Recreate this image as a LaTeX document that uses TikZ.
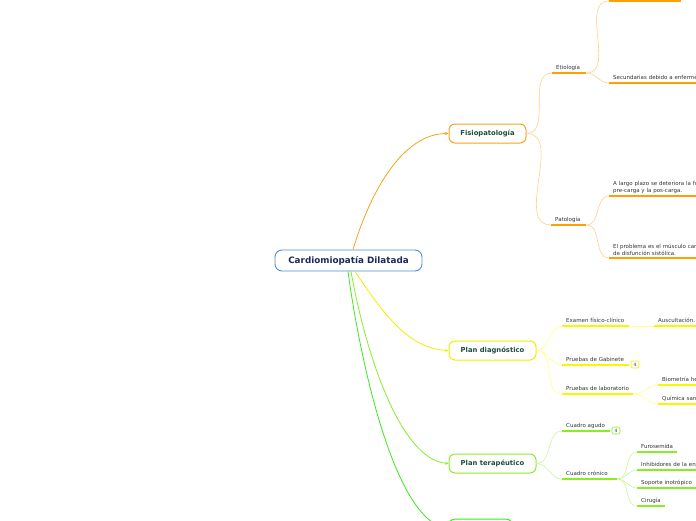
\documentclass[tikz,border=0pt]{standalone}
\usepackage{fontspec}
\setmainfont{DejaVu Sans}
\usetikzlibrary{arrows.meta}
\definecolor{orM}{HTML}{F5A31E}
\definecolor{orT}{HTML}{FFA000}
\definecolor{orL}{HTML}{FFD08A}
\definecolor{yeM}{HTML}{EEEE00}
\definecolor{yeT}{HTML}{F7F700}
\definecolor{yeL}{HTML}{FFFF88}
\definecolor{lgM}{HTML}{8CEB2A}
\definecolor{lgT}{HTML}{88EE22}
\definecolor{lgL}{HTML}{C8F79A}
\definecolor{grM}{HTML}{3CE81E}
\definecolor{rootB}{HTML}{4A90D9}
\definecolor{rootT}{HTML}{1B2A5C}
\definecolor{mainT}{HTML}{1E4D3C}
\definecolor{txt}{HTML}{333333}
\begin{document}
\begin{tikzpicture}[x=1pt,y=-1pt,
 root/.style={draw=rootB, line width=0.9pt, rounded corners=7pt, fill=white, minimum width=147pt, minimum height=21pt, inner sep=0pt, font=\fontsize{8.8}{10}\selectfont\bfseries, text=rootT},
 mainnode/.style={draw=#1, line width=1pt, rounded corners=6pt, fill=white, minimum height=19pt, inner sep=0pt, font=\fontsize{6.8}{8}\selectfont\bfseries, text=mainT},
 conn/.style={draw=#1, line width=0.8pt, -{Stealth[length=3.5pt,width=3pt]}},
 leaf/.style={anchor=south west, inner xsep=4pt, inner ysep=2pt, text depth=1.3pt, align=left, font=\fontsize{5.5}{7}\selectfont, text=txt},
 multi/.style={text depth={}, inner ysep=2.2pt},
 ul/.style={draw=#1, line width=1.6pt},
 thinline/.style={draw=#1, line width=0.6pt},
 badge/.style={draw=#1, line width=0.6pt, rounded corners=2pt, minimum width=8pt, minimum height=7pt, inner sep=0pt, font=\fontsize{4.5}{4.5}\selectfont, text=txt, fill=white},
]
\useasboundingbox (0,0) rectangle (696,520);
\clip (0,0) rectangle (696,520);

% main nodes
\node[root] (root) at (348.5,260.5) {Cardiomiopatía Dilatada};
\node[mainnode=orM, minimum width=77pt] (fis) at (487.5,133.5) {Fisiopatología};
\node[mainnode=yeM, minimum width=87pt] (diag) at (492.5,350.5) {Plan diagnóstico};
\node[mainnode=lgM, minimum width=87pt] (tera) at (492.5,463.5) {Plan terapéutico};
\node[mainnode=grM, minimum width=63pt] (bot) at (480.5,528.5) {};

% main connectors
\draw[conn=orM] ([xshift=4.5pt]root.north) .. controls +(18,-60) and +(-45,0) .. (fis.west);
\draw[conn=yeM] ([xshift=6.5pt]root.south) .. controls +(30,45) and +(-39,-2) .. (diag.west);
\draw[conn=lgM] ([xshift=2.5pt]root.south) .. controls +(14,79) and +(-49,-4) .. (tera.west);
\draw[conn=grM] ([xshift=-0.5pt]root.south) .. controls +(12,89) and +(-54,-8) .. (bot.west);

% Fisiopatologia branch
\node[leaf, text width=26pt] (etio) at (552,73) {\mbox{Etiología}};
\node[leaf, text width=64pt] (etioA) at (609,1) {};
\node[leaf, text width=110pt] (sec) at (609,83) {\mbox{Secundarias debido a enfermedades}};
\node[leaf, text width=27pt] (pato) at (551,225) {\mbox{Patología}};
\node[leaf, multi, text width=110pt] (largo) at (609,196) {A largo plazo se deteriora la función\\pre-carga y la pos-carga.};
\node[leaf, multi, text width=110pt] (probl) at (609,258) {El problema es el músculo cardíaco\\de disfunción sistólica.};
\foreach \n in {etio,etioA,sec,pato,largo,probl}
  \draw[ul=orT] (\n.south west) -- (\n.south east);
\draw[thinline=orL] (fis.east) to[out=0,in=180] (etio.south west);
\draw[thinline=orL] (fis.east) to[out=0,in=180] (pato.south west);
\draw[thinline=orL] (etio.south east) to[out=0,in=180] (etioA.south west);
\draw[thinline=orL] (etio.south east) to[out=0,in=180] (sec.south west);
\draw[thinline=orL] (pato.south east) to[out=0,in=180] (largo.south west);
\draw[thinline=orL] (pato.south east) to[out=0,in=180] (probl.south west);

% Plan diagnostico branch
\node[leaf, text width=59pt] (exam) at (562,326) {\mbox{Examen físico-clínico}};
\node[leaf, text width=60pt] (ausc) at (654,326) {\mbox{Auscultación.}};
\node[leaf, text width=59pt] (gab) at (562,365) {\mbox{Pruebas de Gabinete}};
\node[badge=yeM] (gabb) at (635,364.5) {4};
\node[leaf, text width=63pt] (lab) at (562,394) {\mbox{Pruebas de laboratorio}};
\node[leaf, text width=60pt] (bio) at (658,385) {\mbox{Biometría hemática}};
\node[leaf, text width=60pt] (quim) at (658,404) {\mbox{Química sanguínea}};
\foreach \n in {exam,ausc,gab,lab,bio,quim}
  \draw[ul=yeT] (\n.south west) -- (\n.south east);
\draw[thinline=yeL] (diag.east) to[out=0,in=180] (exam.south west);
\draw[thinline=yeL] (diag.east) to[out=0,in=180] (gab.south west);
\draw[thinline=yeL] (diag.east) to[out=0,in=180] (lab.south west);
\draw[thinline=yeL] (exam.south east) -- (ausc.south west);
\draw[thinline=yeL] (lab.south east) to[out=0,in=180] (bio.south west);
\draw[thinline=yeL] (lab.south east) to[out=0,in=180] (quim.south west);

% Plan terapeutico branch
\node[leaf, text width=40pt] (agudo) at (562,431) {\mbox{Cuadro agudo}};
\node[badge=lgM] (agudob) at (616,430.5) {4};
\node[leaf, text width=47pt] (cron) at (562,479) {\mbox{Cuadro crónico}};
\node[leaf, text width=32pt] (furo) at (637,452) {\mbox{Furosemida}};
\node[leaf, text width=90pt] (inhib) at (637,470) {\mbox{Inhibidores de la enzima}};
\node[leaf, text width=56pt] (sop) at (637,488) {\mbox{Soporte inotrópico}};
\node[leaf, text width=20pt] (ciru) at (637,506) {\mbox{Cirugía}};
\foreach \n in {agudo,cron,furo,inhib,sop,ciru}
  \draw[ul=lgT] (\n.south west) -- (\n.south east);
\draw[thinline=lgL] (tera.east) to[out=0,in=180] (agudo.south west);
\draw[thinline=lgL] (tera.east) to[out=0,in=180] (cron.south west);
\foreach \n in {furo,inhib,sop,ciru}
  \draw[thinline=lgL] (cron.south east) to[out=0,in=180] (\n.south west);
\end{tikzpicture}
\end{document}
